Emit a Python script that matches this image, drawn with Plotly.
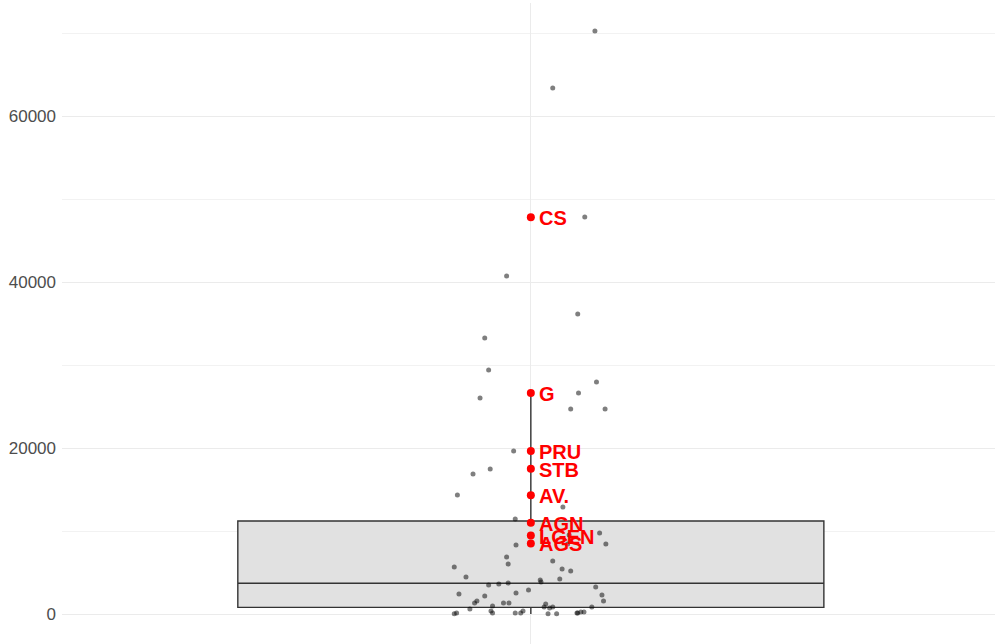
import plotly.graph_objects as go

# Jittered observations: horizontal jitter offset and value
jitter = [0.082, 0.028, 0.069, -0.031, 0.060, -0.059, -0.054, 0.084, -0.065, 0.061,
          0.051, 0.095, -0.022, -0.052, -0.074, -0.094, 0.041, -0.020, 0.049, 0.088,
          0.096, -0.019, 0.047, 0.028, -0.031, -0.029, -0.098, 0.040, 0.051, -0.083,
          -0.029, 0.012, 0.013, -0.041, -0.054, 0.037, 0.083, -0.003, -0.019, -0.092,
          0.091, -0.059, 0.093, -0.069, -0.072, -0.035, -0.028, -0.078, -0.049, -0.051,
          -0.049, 0.019, 0.017, 0.024, 0.028, 0.078, -0.020, -0.013, -0.010, -0.098,
          -0.095, 0.022, 0.033, 0.059, 0.060, 0.064, 0.068]
values = [70240, 63370, 47830, 40720, 36150, 33250, 29400, 27950, 26020, 26630,
          24700, 24700, 19640, 17470, 16870, 14340, 12890, 11450, 9520, 9760,
          8430, 8310, 8430, 6390, 6870, 6020, 5660, 5420, 5180, 4460,
          3735, 4100, 3860, 3610, 3490, 4220, 3250, 2890, 2530, 2410,
          2290, 2170, 1570, 1570, 1330, 1330, 1330, 600, 960, 360,
          120, 1200, 840, 720, 840, 840, 120, 120, 360, 30,
          120, 30, 30, 120, 120, 240, 240]

# Highlighted observations
hl_labels = ["CS", "G", "PRU", "STB", "AV.", "AGN", "LGEN", "AGS"]
hl_values = [47800, 26630, 19640, 17500, 14300, 11000, 9450, 8500]

# Box summary
q1, median, q3 = 800, 3700, 11200
lower_fence, upper_fence = 0, 26630

fig = go.Figure()

fig.add_trace(go.Box(
    x=[0], q1=[q1], median=[median], q3=[q3],
    lowerfence=[lower_fence], upperfence=[upper_fence],
    width=0.75, whiskerwidth=0, boxpoints=False,
    fillcolor="#e1e1e1", line=dict(color="#333333", width=1.4),
    hoverinfo="skip", showlegend=False,
))

fig.add_trace(go.Scatter(
    x=jitter, y=values, mode="markers",
    marker=dict(size=5, color="rgba(0,0,0,0.5)", line=dict(width=0)),
    showlegend=False, hoverinfo="y",
))

fig.add_trace(go.Scatter(
    x=[0] * len(hl_values), y=hl_values, mode="markers",
    marker=dict(size=8, color="red"),
    text=hl_labels, showlegend=False, hoverinfo="text+y",
))

# Labels beside the highlighted points
for lab, val in zip(hl_labels, hl_values):
    fig.add_annotation(
        x=0, y=val, text=lab, showarrow=False,
        xanchor="left", yanchor="middle", xshift=6, yshift=-1,
        font=dict(family="Liberation Sans, Arial, sans-serif", size=20,
                  color="red", weight="bold"),
    )

grid = "#ebebeb"
fig.update_layout(
    width=995, height=644, autosize=False,
    margin=dict(l=62, r=0, t=3, b=0),
    plot_bgcolor="white", paper_bgcolor="white",
    xaxis=dict(range=[-0.6, 0.594], tickvals=[0], showticklabels=False,
               showgrid=True, gridcolor=grid, gridwidth=1, zeroline=False,
               ticks=""),
    yaxis=dict(range=[-3615, 73615], tickmode="linear", tick0=0, dtick=20000,
               tickformat="d",
               showgrid=True, gridcolor=grid, gridwidth=1, zeroline=False,
               ticks="", ticklabelstandoff=5,
               tickfont=dict(family="Liberation Sans, Arial, sans-serif",
                             size=17, color="#4d4d4d"),
               minor=dict(tick0=0, dtick=10000, showgrid=True,
                          gridcolor="#f2f2f2", gridwidth=1)),
    font=dict(family="Liberation Sans, Arial, sans-serif"),
)

fig.write_html("out.html")
